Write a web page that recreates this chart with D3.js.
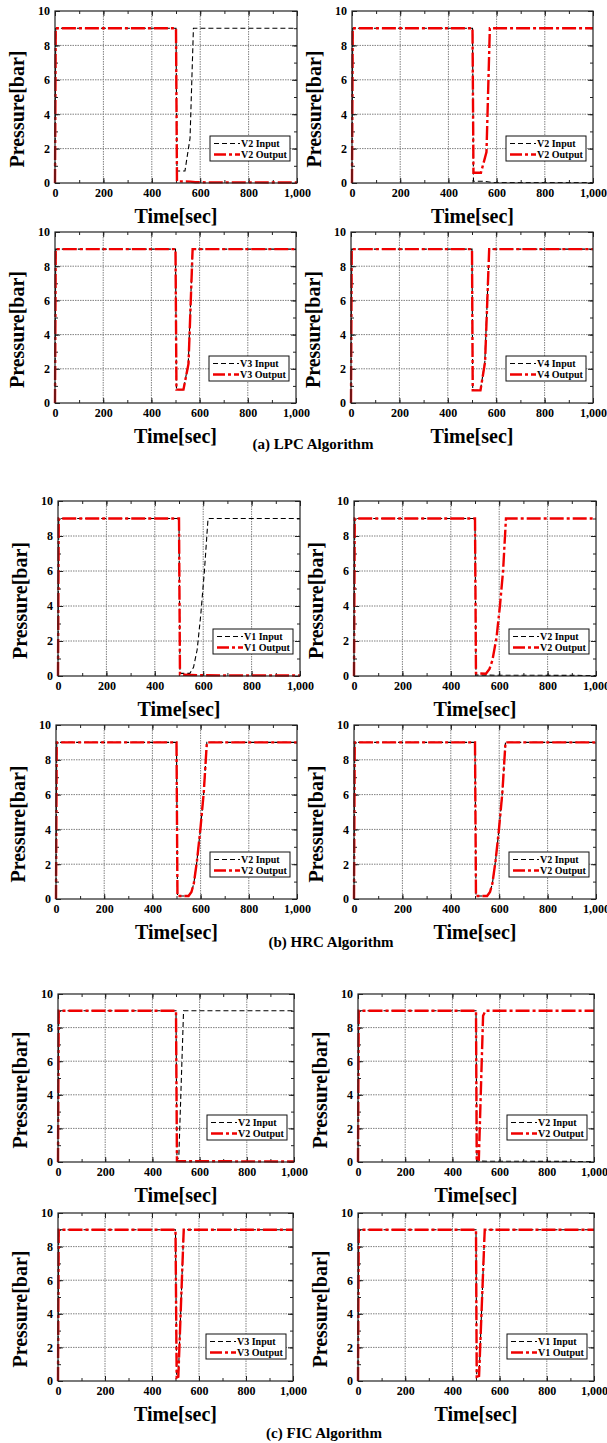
<!DOCTYPE html>
<html><head><meta charset="utf-8">
<script src="https://cdn.jsdelivr.net/npm/d3@7"></script>
<style>
html,body{margin:0;padding:0;background:#fff;}
svg{display:block;}
text{font-family:"Liberation Serif","Times New Roman",serif;font-weight:bold;fill:#000;}
</style></head>
<body>
<svg id="chart" width="607" height="1443"></svg>
<script>
// ---- data ----
const xTicks = [0,200,400,600,800,1000];
const xTickLabels = ["0","200","400","600","800","1,000"];
const yTicks = [0,2,4,6,8,10];
const yTickLabels = ["0","2","4","6","8","10"];
const captions = ["(a) LPC Algorithm","(b) HRC Algorithm","(c) FIC Algorithm"];
const legendNames = ["V2","V2","V3","V4","V1","V2","V2","V2","V2","V2","V3","V1"];

// LPC
const lpc1In  = [[0,0],[3,9],[500,9],[504,0.7],[537,0.7],[558,2.6],[572,9],[1000,9]];
const lpc1Out = [[0,0],[3,9],[500,9],[504,0.1],[560,0.08],[580,0.04],[1000,0.03]];
const lpc2In  = [[0,0],[3,9],[500,9],[504,0.1],[550,0.1],[580,0.03],[1000,0.03]];
const lpc2Out = [[0,0],[3,9],[500,9],[504,0.6],[535,0.6],[558,1.8],[572,9],[1000,9]];
const lpc3In  = [[0,0],[3,9],[500,9],[504,0.78],[533,0.78],[553,2.3],[571,9],[1000,9]];
const lpc3Out = [[0,0],[3,9],[500,9],[504,0.78],[533,0.78],[554,2.3],[571,9],[1000,9]];
const lpc4In  = [[0,0],[3,9],[500,9],[503,0.74],[535,0.74],[553,2.4],[571,9],[1000,9]];
const lpc4Out = [[0,0],[3,9],[500,9],[503,0.74],[535,0.74],[554,2.4],[571,9],[1000,9]];
// HRC
const hrc1In  = [[0,0],[3,9],[500,9],[504,0.15],[545,0.15],[560,0.5],[575,1.5],[590,3.5],[605,6],[620,9],[1000,9]];
const hrc1Out = [[0,0],[3,9],[500,9],[504,0.08],[600,0.04],[1000,0.03]];
const hrc2In  = [[0,0],[3,9],[500,9],[504,0.05],[1000,0.03]];
const hrc2Out = [[0,0],[3,9],[500,9],[504,0.15],[545,0.13],[560,0.4],[572,0.9],[589,2.2],[603,4],[616,6],[628,9],[1000,9]];
const hrc3In  = [[0,0],[3,9],[500,9],[504,0.17],[550,0.17],[562,0.4],[572,0.9],[585,2.2],[599,4],[613,6.1],[626,9],[1000,9]];
const hrc3Out = [[0,0],[3,9],[500,9],[504,0.17],[550,0.17],[562,0.4],[572,0.9],[585,2.2],[599,4],[613,6.1],[626,9],[1000,9]];
const hrc4In  = [[0,0],[3,9],[500,9],[504,0.17],[550,0.17],[562,0.4],[572,0.9],[585,2.2],[599,4],[613,6.1],[626,9],[1000,9]];
const hrc4Out = [[0,0],[3,9],[500,9],[504,0.17],[550,0.17],[562,0.4],[572,0.9],[585,2.2],[599,4],[613,6.1],[626,9],[1000,9]];
// FIC
const fic1In  = [[0,0],[3,9],[500,9],[504,0.1],[512,0.3],[532,9],[1000,9]];
const fic1Out = [[0,0],[3,9],[500,9],[504,0.05],[1000,0.03]];
const fic2In  = [[0,0],[3,9],[500,9],[504,0.05],[1000,0.03]];
const fic2Out = [[0,0],[3,9],[500,9],[503,0.2],[512,0.15],[530,8.7],[540,9],[1000,9]];
const fic3In  = [[0,0],[3,9],[500,9],[505,0.2],[512,0.25],[535,9],[1000,9]];
const fic3Out = [[0,0],[3,9],[500,9],[505,0.2],[512,0.25],[535,9],[1000,9]];
const fic4In  = [[0,0],[3,9],[500,9],[503,0.25],[513,0.3],[537,9],[1000,9]];
const fic4Out = [[0,0],[3,9],[500,9],[503,0.25],[513,0.3],[537,9],[1000,9]];

const inputs  = [lpc1In,lpc2In,lpc3In,lpc4In,hrc1In,hrc2In,hrc3In,hrc4In,fic1In,fic2In,fic3In,fic4In];
const outputs = [lpc1Out,lpc2Out,lpc3Out,lpc4Out,hrc1Out,hrc2Out,hrc3Out,hrc4Out,fic1Out,fic2Out,fic3Out,fic4Out];

// ---- layout (plot frames: left, right, top, bottom) ----
const frames = [
  [55,297,11,183],[352,593,11,183],
  [55,296,232,403],[351,593,232,403],
  [58,300,501,676],[354,596,501,676],
  [56,297,725,899],[354,596,725,899],
  [58,294,994,1162],[358,594,994,1162],
  [58,293,1213,1381],[358,594,1213,1381]
];
const captionPos = [[313,449],[331,947],[324,1438]];

const svg = d3.select("#chart");

frames.forEach((f,i)=>{
  const [L,R,T,B] = f;
  const x = d3.scaleLinear().domain([0,1000]).range([L,R]);
  const y = d3.scaleLinear().domain([0,10]).range([B,T]);
  const g = svg.append("g");

  // grid
  g.selectAll(".gx").data(xTicks.slice(1,-1)).join("line")
    .attr("x1",d=>x(d)).attr("x2",d=>x(d)).attr("y1",T).attr("y2",B)
    .attr("stroke","#808080").attr("stroke-width",1).attr("stroke-dasharray","1.5,1");
  g.selectAll(".gy").data(yTicks.slice(1,-1)).join("line")
    .attr("y1",d=>y(d)).attr("y2",d=>y(d)).attr("x1",L).attr("x2",R)
    .attr("stroke","#808080").attr("stroke-width",1).attr("stroke-dasharray","1.5,1");

  // axes with inward ticks on all sides
  const xMinor = d3.range(0,1001,100);
  const yMinor = d3.range(0,11,1);
  const axB = d3.axisBottom(x).tickValues(xMinor).tickSize(-3).tickFormat("");
  const axT = d3.axisTop(x).tickValues(xMinor).tickSize(-3).tickFormat("");
  const axL = d3.axisLeft(y).tickValues(yMinor).tickSize(-3).tickFormat("");
  const axR = d3.axisRight(y).tickValues(yMinor).tickSize(-3).tickFormat("");
  const majB = d3.axisBottom(x).tickValues(xTicks).tickSize(-5).tickFormat((d,k)=>xTickLabels[k]).tickPadding(5);
  const majT = d3.axisTop(x).tickValues(xTicks).tickSize(-5).tickFormat("");
  const majL = d3.axisLeft(y).tickValues(yTicks).tickSize(-5).tickFormat((d,k)=>yTickLabels[k]).tickPadding(5);
  const majR = d3.axisRight(y).tickValues(yTicks).tickSize(-5).tickFormat("");
  [[axB,`translate(0,${B})`],[axT,`translate(0,${T})`],[axL,`translate(${L},0)`],[axR,`translate(${R},0)`],
   [majB,`translate(0,${B})`],[majT,`translate(0,${T})`],[majL,`translate(${L},0)`],[majR,`translate(${R},0)`]]
  .forEach(([ax,tr])=>{
    const a = g.append("g").attr("transform",tr).call(ax);
    a.select(".domain").remove();
    a.selectAll("line").attr("stroke","#222");
    a.selectAll("text").attr("font-size","12px").attr("font-family","Liberation Serif, serif").attr("font-weight","bold").attr("fill","#000");
  });

  // lines
  const line = d3.line().x(d=>x(d[0])).y(d=>y(d[1]));
  g.append("path").datum(inputs[i]).attr("d",line).attr("fill","none")
    .attr("stroke","#000").attr("stroke-width",1.1).attr("stroke-dasharray","5,3");
  g.append("path").datum(outputs[i]).attr("d",line).attr("fill","none")
    .attr("stroke","#f00000").attr("stroke-width",2.4).attr("stroke-dasharray","14,3,3,3");

  // frame
  g.append("rect").attr("x",L).attr("y",T).attr("width",R-L).attr("height",B-T)
    .attr("fill","none").attr("stroke","#222").attr("stroke-width",1.2);

  // legend
  const lw = 80, lh = 25;
  const lx = R-7-lw, ly = B-22-lh;
  const lg = g.append("g");
  lg.append("rect").attr("x",lx).attr("y",ly).attr("width",lw).attr("height",lh)
    .attr("fill","#fff").attr("stroke","#111").attr("stroke-width",1);
  const r1 = ly+7.5, r2 = ly+18.5;
  lg.append("line").attr("x1",lx+4).attr("x2",lx+30).attr("y1",r1).attr("y2",r1)
    .attr("stroke","#000").attr("stroke-width",1.1).attr("stroke-dasharray","5,3");
  lg.append("line").attr("x1",lx+4).attr("x2",lx+30).attr("y1",r2).attr("y2",r2)
    .attr("stroke","#f00000").attr("stroke-width",2.4).attr("stroke-dasharray","12,3,3,3");
  lg.append("text").attr("x",lx+31).attr("y",r1).attr("dy","0.35em").attr("font-size","10px")
    .text(legendNames[i]+" Input");
  lg.append("text").attr("x",lx+31).attr("y",r2).attr("dy","0.35em").attr("font-size","10px")
    .text(legendNames[i]+" Output");

  // axis titles
  g.append("text").attr("x",(L+R)/2).attr("y",B+40).attr("text-anchor","middle")
    .attr("font-size","20px").text("Time[sec]");
  g.append("text").attr("transform",`translate(${L-38},${(T+B)/2+12}) rotate(-90)`)
    .attr("text-anchor","middle").attr("dy","0.35em").attr("font-size","20px").text("Pressure[bar]");
});

svg.selectAll(".cap").data(captions).join("text")
  .attr("x",(d,i)=>captionPos[i][0]).attr("y",(d,i)=>captionPos[i][1])
  .attr("text-anchor","middle").attr("font-size","15px").text(d=>d);
</script>
</body></html>
